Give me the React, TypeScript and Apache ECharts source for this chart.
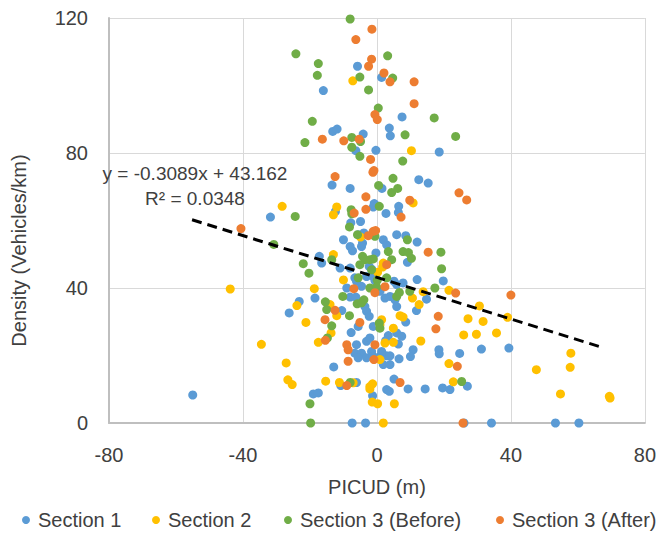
import React, { useEffect, useRef } from "react";
import * as echarts from "echarts";

const SERIES_NAMES = ["Section 1", "Section 2", "Section 3 (Before)", "Section 3 (After)"];
const COLORS = ["#5B9BD5", "#FFC000", "#70AD47", "#ED7D31"];

const SECTION1: number[][] = [
  [-5.8,105.7],[1.4,102.4],[-16.0,98.5],[-13.2,86.4],[-11.9,87.1],[-4.1,85.6],[-6.3,80.7],[-0.3,80.8],
  [-13.4,70.5],[-8.0,69.5],[-0.8,65.0],[-1.1,64.0],[-31.8,61.0],[7.5,90.7],[3.7,87.4],[4.0,85.1],
  [18.6,80.3],[12.5,72.1],[15.3,71.1],[1.5,69.5],[6.5,64.2],[6.4,62.4],[2.7,62.1],[-12.4,62.7],
  [-4.9,59.7],[-7.8,59.3],[-3.9,56.3],[-5.6,55.8],[-10.0,54.3],[-4.3,53.3],[-4.6,52.3],[-8.0,52.3],
  [-7.3,51.0],[1.9,54.3],[2.9,52.8],[5.9,55.8],[8.6,55.5],[12.0,53.6],[-0.3,50.4],[-17.2,49.4],
  [-16.5,47.4],[-11.0,45.9],[-8.0,45.9],[-2.3,46.4],[-1.6,45.6],[-6.6,43.0],[-6.1,42.0],[-1.1,43.4],
  [-0.6,42.2],[-3.1,43.4],[5.1,42.0],[5.9,41.0],[-4.6,40.5],[-9.0,40.0],[7.8,41.5],[9.1,47.6],
  [-18.5,37.0],[-8.0,37.3],[-6.3,37.3],[-23.2,36.0],[-26.2,32.6],[-10.5,33.3],[-3.6,34.5],[-3.1,33.1],
  [-2.3,31.6],[-1.1,28.6],[-5.6,28.6],[-7.7,26.8],[-6.1,23.2],[-3.1,24.2],[-2.1,25.2],[-6.6,20.7],
  [-4.6,20.7],[-3.1,19.3],[-5.6,19.3],[-1.6,21.2],[-1.1,19.7],[-12.9,16.6],[-10.8,11.1],[-6.1,12.0],
  [-1.3,8.1],[-19.0,8.6],[-17.5,8.9],[-55.0,8.3],[-7.4,0],[-3.4,0],
  [12.0,42.5],[19.8,42.1],[14.8,36.7],[3.9,37.5],[5.4,36.5],[5.9,34.5],[2.4,37.0],[0.9,39.0],
  [11.8,33.3],[8.6,29.9],[5.9,26.7],[7.4,25.7],[3.4,25.9],[2.6,24.4],[6.4,23.4],[10.8,21.7],
  [10.0,19.7],[18.5,21.7],[18.6,20.5],[24.7,20.6],[31.2,21.9],[39.4,22.2],[0.9,19.7],[2.9,19.9],
  [3.9,19.9],[1.4,21.2],[1.9,17.3],[3.9,17.3],[6.6,19.0],[5.1,13.0],[2.9,9.9],[3.7,9.4],
  [9.3,10.1],[14.4,10.1],[19.6,10.4],[21.8,9.9],[27.0,10.9],[26.0,0],[34.2,0],[53.3,0],[60.3,0]
];

const SECTION2: number[][] = [
  [-7.2,101.4],[-12.0,64.0],[-28.3,64.2],[-13.0,61.7],[10.3,80.7],[10.8,65.2],[-4.9,55.1],[-13.0,49.9],
  [1.9,47.4],[1.7,46.2],[-10.0,42.4],[0.2,44.7],[-18.7,39.8],[-23.9,34.8],[-14.0,35.1],[-12.0,31.8],
  [-21.2,29.8],[-13.7,26.7],[-17.5,23.9],[-34.5,23.3],[-43.8,39.7],[-27.1,17.8],[-26.6,12.8],[-25.3,11.4],
  [-15.3,12.4],[-11.2,12.0],[-7.1,11.9],[-2.1,10.8],[-1.3,11.6],[-2.1,10.1],[-1.4,6.2],[0.2,5.7],
  [13.8,38.9],[21.5,39.3],[10.6,37.0],[12.6,35.1],[30.6,34.7],[27.2,30.9],[31.7,30.1],[39.0,31.3],
  [6.9,31.8],[7.8,31.4],[1.4,30.6],[0.9,29.1],[4.9,28.1],[25.9,26.1],[29.7,26.3],[35.7,26.7],
  [2.4,23.7],[4.9,23.9],[13.1,24.3],[57.9,20.7],[47.6,15.8],[57.7,16.5],[54.8,8.6],[69.4,7.9],
  [69.6,7.4],[0.9,18.8],[21.5,17.6],[22.8,12.2],[5.2,5.7],[1.9,0]
];

const SECTION3_BEFORE: number[][] = [
  [-8.0,119.7],[-24.2,109.4],[-17.5,106.5],[-17.8,103.0],[-5.1,102.5],[-2.5,98.7],[0.4,93.3],[-19.3,89.4],
  [-7.5,84.6],[-4.9,83.4],[-21.5,83.1],[-7.5,81.7],[-5.1,79.0],[0.5,70.4],[-7.7,63.2],[-7.5,62.0],
  [-24.4,61.2],[3.2,108.8],[4.7,102.2],[17.1,90.4],[8.4,85.4],[23.5,84.9],[7.7,77.6],[4.8,72.5],
  [4.4,68.3],[6.2,69.5],[0.7,64.2],[-8.2,58.1],[-5.8,55.8],[-0.6,55.3],[9.1,54.3],[3.4,50.8],
  [7.8,50.8],[9.4,50.5],[10.3,48.8],[-4.3,49.4],[-2.1,48.4],[-1.1,48.6],[-3.6,48.4],[-13.5,48.4],
  [-22.0,47.2],[-20.3,44.4],[-5.1,46.9],[4.4,48.4],[-1.6,45.4],[-5.6,43.0],[0.1,42.3],[2.9,43.0],
  [-2.1,40.0],[-0.1,40.3],[-30.8,52.9],[-10.2,37.5],[-5.9,35.3],[-3.9,36.5],[-4.6,35.6],[-15.4,35.9],
  [-15.0,33.6],[-8.2,31.8],[-13.5,28.8],[-14.8,25.2],[0.7,29.6],[0.9,28.1],[-8.0,12.0],[-20.0,5.7],
  [-19.8,0],[19.1,50.6],[19.3,45.7],[17.3,40.0],[5.9,37.5],[6.7,38.7],[9.8,39.0],[25.3,12.3]
];

const SECTION3_AFTER: number[][] = [
  [-1.5,116.7],[-6.3,113.6],[-1.6,107.8],[-2.5,105.7],[-0.6,91.4],[0.1,89.9],[-5.3,84.1],[-16.3,84.1],
  [-9.9,83.6],[-1.9,78.1],[-0.9,74.8],[-1.2,74.3],[-12.5,73.0],[-3.3,67.0],[-3.3,63.3],[-6.8,62.2],
  [2.1,103.7],[3.9,101.1],[11.1,101.1],[11.1,94.6],[24.5,68.2],[26.8,66.1],[9.8,66.0],[7.2,61.0],
  [-1.1,56.8],[-0.4,57.0],[-2.6,55.5],[2.9,46.9],[2.4,40.4],[-6.9,39.8],[-40.6,57.6],[-0.6,38.6],
  [-12.5,33.4],[-15.5,30.6],[-5.1,29.8],[-15.4,24.5],[-9.0,23.2],[-8.6,21.7],[-0.6,23.2],[-0.9,18.8],
  [-8.6,18.3],[-9.0,11.1],[40.0,37.9],[18.3,31.6],[17.6,27.9],[15.3,50.6],[24.0,16.8],[23.5,38.5],
  [6.9,12.0],[25.7,0]
];

const TREND_SLOPE = -0.3089;
const TREND_INTERCEPT = 43.162;
const TREND_X = [-55.2, 67.0];
const EQUATION_TEXT = "y = -0.3089x + 43.162";
const R2_TEXT = "R\u00B2 = 0.0348";

const X_TICKS = { min: -80, max: 80, interval: 40 };
const Y_TICKS = { min: 0, max: 120, interval: 40 };

const FONT = "'Liberation Sans', Arial, sans-serif";
const TEXT_COLOR = "#404040";

export default function App() {
  const ref = useRef<HTMLDivElement>(null);
  useEffect(() => {
    if (!ref.current) return;
    const chart = echarts.init(ref.current, undefined, { renderer: "svg" });
    const allData = [SECTION1, SECTION2, SECTION3_BEFORE, SECTION3_AFTER];
    const legendLefts = [22, 152, 284, 496];
    const option: any = {
      animation: false,
      backgroundColor: "#ffffff",
      textStyle: { fontFamily: FONT },
      grid: { left: 109, right: 13, top: 18, bottom: 113, containLabel: false },
      xAxis: {
        type: "value",
        min: X_TICKS.min,
        max: X_TICKS.max,
        interval: X_TICKS.interval,
        name: "PICUD (m)",
        nameLocation: "middle",
        nameGap: 54,
        nameTextStyle: { fontSize: 20, color: TEXT_COLOR, fontFamily: FONT },
        axisLine: { show: true, onZero: false, lineStyle: { color: "#bfbfbf", width: 2 } },
        axisTick: { show: false },
        axisLabel: { fontSize: 20, color: TEXT_COLOR, margin: 22, fontFamily: FONT },
        splitLine: { show: true, lineStyle: { color: "#d9d9d9", width: 1 } },
      },
      yAxis: {
        type: "value",
        min: Y_TICKS.min,
        max: Y_TICKS.max,
        interval: Y_TICKS.interval,
        name: "Density (Vehicles/km)",
        nameLocation: "middle",
        nameGap: 80,
        nameTextStyle: { fontSize: 20, color: TEXT_COLOR, fontFamily: FONT, padding: [0, 60, 0, 0] },
        axisLine: { show: true, onZero: false, lineStyle: { color: "#bfbfbf", width: 2 } },
        axisTick: { show: false },
        axisLabel: { fontSize: 20, color: TEXT_COLOR, margin: 21, fontFamily: FONT },
        splitLine: { show: true, lineStyle: { color: "#d9d9d9", width: 1 } },
      },
      legend: SERIES_NAMES.map((n, i) => ({
        data: [n],
        left: legendLefts[i],
        top: 510,
        padding: 0,
        icon: "circle",
        itemWidth: 8,
        itemHeight: 8,
        itemGap: 0,
        textStyle: { fontSize: 20, color: TEXT_COLOR, fontFamily: FONT, padding: [0, 0, 0, 3] },
      })),
      series: [
        ...SERIES_NAMES.map((n, i) => ({
          name: n,
          type: "scatter",
          data: allData[i],
          symbol: "circle",
          symbolSize: 9,
          itemStyle: { color: COLORS[i], opacity: 1 },
          z: 2 + i,
        })),
        {
          name: "Linear trend",
          type: "line",
          data: TREND_X.map((x) => [x, TREND_SLOPE * x + TREND_INTERCEPT]),
          symbol: "none",
          lineStyle: { color: "#000000", width: 3, type: [10, 6] },
          z: 10,
          silent: true,
        },
      ],
      graphic: [
        {
          type: "text",
          x: 195,
          y: 173,
          style: { text: EQUATION_TEXT, fontSize: 19, fill: TEXT_COLOR, fontFamily: FONT, textAlign: "center", textVerticalAlign: "middle" },
          z: 20,
        },
        {
          type: "text",
          x: 195,
          y: 198,
          style: { text: R2_TEXT, fontSize: 19, fill: TEXT_COLOR, fontFamily: FONT, textAlign: "center", textVerticalAlign: "middle" },
          z: 20,
        },
      ],
    };
    chart.setOption(option);
    return () => chart.dispose();
  }, []);
  return (
    <div
      ref={ref}
      style={{ position: "fixed", left: 0, top: 0, width: 659, height: 536, background: "#fff" }}
    />
  );
}
